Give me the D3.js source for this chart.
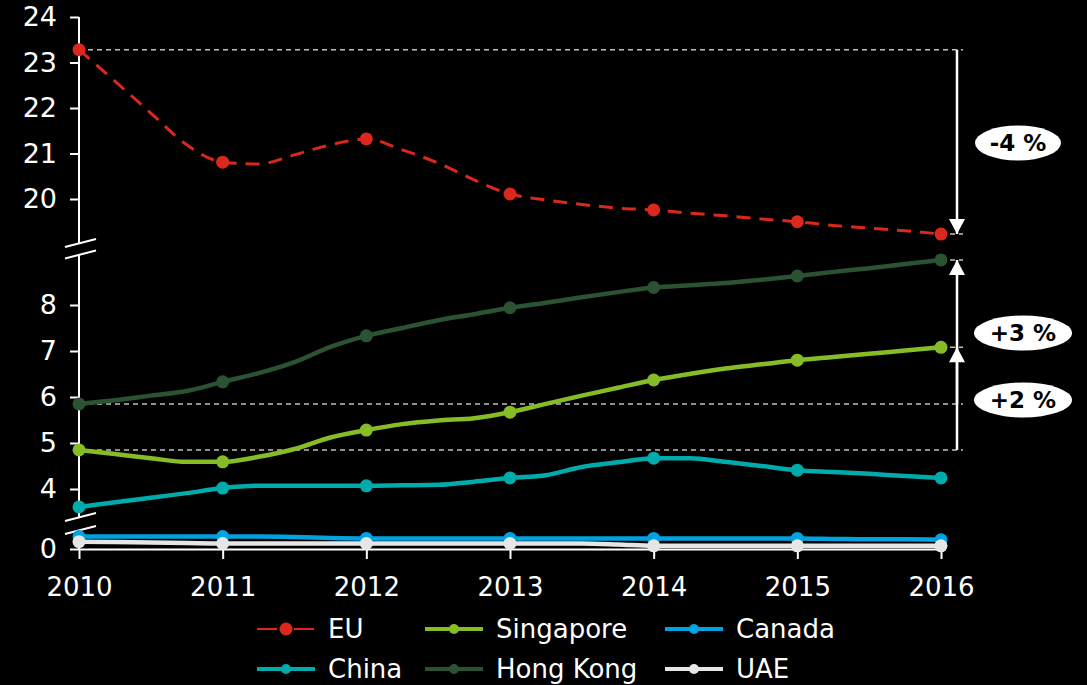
<!DOCTYPE html>
<meta charset="utf-8">
<script src="https://d3js.org/d3.v7.min.js"></script>
<style>
body { margin: 0; background: #000; }
text { font-family: "DejaVu Sans", Verdana, sans-serif; }
</style>
<body>
<div id="my_dataviz"></div>
<script>

// quarterly points, markers on the full years
var quarters = [2010, 2010.25, 2010.5, 2010.75, 2011, 2011.25, 2011.5, 2011.75,
                2012, 2012.25, 2012.5, 2012.75, 2013, 2013.25, 2013.5, 2013.75,
                2014, 2014.25, 2014.5, 2014.75, 2015, 2015.25, 2015.5, 2015.75, 2016];
var years = [2010, 2011, 2012, 2013, 2014, 2015, 2016];

var euValues        = [23.28, 22.59, 21.89, 21.19, 20.81, 20.77, 20.97, 21.19, 21.32, 21.08, 20.79, 20.42, 20.11,
                       19.98, 19.88, 19.80, 19.76, 19.69, 19.63, 19.56, 19.50, 19.42, 19.36, 19.30, 19.23];
var singaporeValues = [4.85, 4.76, 4.67, 4.59, 4.59, 4.70, 4.87, 5.12, 5.28, 5.41, 5.49, 5.54, 5.67,
                       5.85, 6.03, 6.20, 6.37, 6.50, 6.62, 6.71, 6.80, 6.87, 6.94, 7.01, 7.08];
var canadaValues    = [0.27, 0.27, 0.27, 0.27, 0.27, 0.27, 0.26, 0.24, 0.23, 0.23, 0.23, 0.23, 0.23,
                       0.23, 0.23, 0.23, 0.23, 0.23, 0.23, 0.23, 0.23, 0.22, 0.21, 0.21, 0.20];
var chinaValues     = [3.61, 3.71, 3.81, 3.91, 4.02, 4.07, 4.07, 4.07, 4.07, 4.08, 4.09, 4.16, 4.24,
                       4.30, 4.48, 4.58, 4.67, 4.67, 4.59, 4.50, 4.41, 4.37, 4.33, 4.28, 4.24];
var hongKongValues  = [5.85, 5.93, 6.03, 6.13, 6.33, 6.52, 6.76, 7.09, 7.33, 7.50, 7.67, 7.80, 7.94,
                       8.05, 8.17, 8.28, 8.38, 8.43, 8.48, 8.55, 8.63, 8.72, 8.80, 8.89, 8.98];
var uaeValues       = [0.16, 0.15, 0.14, 0.13, 0.12, 0.12, 0.12, 0.12, 0.12, 0.12, 0.12, 0.12, 0.12,
                       0.12, 0.12, 0.10, 0.07, 0.07, 0.07, 0.07, 0.07, 0.07, 0.07, 0.07, 0.07];

var names  = ["EU", "Singapore", "Canada", "China", "Hong Kong", "UAE"];
var colors = ["#da291c", "#86bc25", "#00a3e0", "#00abab", "#2c5234", "#e6e6e6"];

var topTicks = [20, 21, 22, 23, 24];
var midTicks = [4, 5, 6, 7, 8];
var botTicks = [0];

var changeLabels = ["-4 %", "+3 %", "+2 %"];

var series = [
  {name: names[0], color: colors[0], values: euValues, dashed: true},
  {name: names[1], color: colors[1], values: singaporeValues},
  {name: names[2], color: colors[2], values: canadaValues},
  {name: names[3], color: colors[3], values: chinaValues},
  {name: names[4], color: colors[4], values: hongKongValues},
  {name: names[5], color: colors[5], values: uaeValues}
];

var width = 1087, height = 685;

var svg = d3.select("#my_dataviz")
  .append("svg")
  .attr("width", width)
  .attr("height", height)
  .style("background", "#000");

var x = d3.scaleLinear().domain([2010, 2016]).range([79, 941]);

// three pieces of a broken y axis
var yTop = d3.scaleLinear().domain([20, 24]).range([199, 17]);
var yMid = d3.scaleLinear().domain([4, 8]).range([489, 305]);
var yBot = d3.scaleLinear().domain([0, 1]).range([549, 503]);
function y(v) {
  if (v > 15) return yTop(v);
  if (v > 2) return yMid(v);
  return yBot(v);
}

// y axes
[[yTop, topTicks], [yMid, midTicks], [yBot, botTicks]].forEach(function(p) {
  var g = svg.append("g")
    .attr("class", "yaxis")
    .attr("transform", "translate(79,0)")
    .call(d3.axisLeft(p[0]).tickValues(p[1]).tickFormat(d3.format("d"))
          .tickSize(9).tickPadding(13));
  g.select(".domain").remove();
});

var segs = [[17, 243], [255, 517], [530, 549]];
svg.selectAll(".seg").data(segs).enter().append("line")
  .attr("x1", 79).attr("x2", 79)
  .attr("y1", function(d) { return d[0]; })
  .attr("y2", function(d) { return d[1]; })
  .attr("stroke", "#fff").attr("stroke-width", 2);

var breaks = [243, 254.5, 517, 530];
svg.selectAll(".brk").data(breaks).enter().append("line")
  .attr("x1", 65).attr("x2", 96)
  .attr("y1", function(d) { return d + 4; })
  .attr("y2", function(d) { return d - 4; })
  .attr("stroke", "#fff").attr("stroke-width", 2);

// x axis
var xAxis = svg.append("g")
  .attr("class", "xaxis")
  .attr("transform", "translate(0,549)")
  .call(d3.axisBottom(x).tickValues(years).tickFormat(d3.format("d"))
        .tickSize(10).tickSizeOuter(0).tickPadding(19));

svg.selectAll(".yaxis text").style("font-size", "27px").attr("fill", "#fff");
svg.selectAll(".xaxis text").style("font-size", "26px").attr("fill", "#fff");
svg.selectAll(".yaxis line, .xaxis line, .xaxis .domain")
  .attr("stroke", "#fff").attr("stroke-width", 2);

// reference dashed lines
var xEnd = 963;
var refLong = [euValues[0], hongKongValues[0], singaporeValues[0]];
var refShort = [euValues[24], hongKongValues[24], singaporeValues[24]];
svg.selectAll(".refl").data(refLong).enter().append("line")
  .attr("x1", x(2010)).attr("x2", xEnd)
  .attr("y1", y).attr("y2", y)
  .attr("stroke", "#bfbfbf").attr("stroke-width", 1.5)
  .attr("stroke-dasharray", "5,4");
svg.selectAll(".refs").data(refShort).enter().append("line")
  .attr("x1", x(2016)).attr("x2", xEnd)
  .attr("y1", y).attr("y2", y)
  .attr("stroke", "#bfbfbf").attr("stroke-width", 1.5)
  .attr("stroke-dasharray", "5,4");

// series
var line = d3.line()
  .x(function(d, i) { return x(quarters[i]); })
  .y(function(d) { return y(d); })
  .curve(d3.curveMonotoneX);

series.forEach(function(s) {
  svg.append("path")
    .datum(s.values)
    .attr("d", line)
    .attr("fill", "none")
    .attr("stroke", s.color)
    .attr("stroke-width", s.dashed ? 3 : 4.5)
    .attr("stroke-dasharray", s.dashed ? "14,9" : null);

  var pts = quarters.map(function(q, i) { return {q: q, v: s.values[i]}; })
    .filter(function(d) { return Number.isInteger(d.q); });
  svg.selectAll(null).data(pts).enter().append("circle")
    .attr("cx", function(d) { return x(d.q); })
    .attr("cy", function(d) { return y(d.v); })
    .attr("r", 6.5)
    .attr("fill", s.color);
});

// arrows
var ax = 957;
function arrow(from, to) {
  svg.append("line")
    .attr("x1", ax).attr("x2", ax)
    .attr("y1", y(from)).attr("y2", y(to))
    .attr("stroke", "#fff").attr("stroke-width", 2.5);
  var tip = y(to), dir = y(to) > y(from) ? -1 : 1;
  svg.append("path")
    .attr("d", "M" + ax + "," + tip + "L" + (ax - 8) + "," + (tip + dir * 15) +
               "L" + (ax + 8) + "," + (tip + dir * 15) + "Z")
    .attr("fill", "#fff");
}
arrow(euValues[0], euValues[24]);
arrow(hongKongValues[0], hongKongValues[24]);
arrow(singaporeValues[0], singaporeValues[24]);

// change labels
var labelPos = [[1018, 143, 43], [1023, 333, 49], [1023, 400, 49]];
changeLabels.forEach(function(t, i) {
  var p = labelPos[i];
  svg.append("ellipse")
    .attr("cx", p[0]).attr("cy", p[1])
    .attr("rx", p[2]).attr("ry", 17.5)
    .attr("fill", "#fff");
  svg.append("text")
    .attr("x", p[0]).attr("y", p[1])
    .attr("dy", "0.36em")
    .attr("text-anchor", "middle")
    .style("font-size", "23px")
    .style("font-weight", "bold")
    .attr("fill", "#000")
    .text(t);
});

// legend
var legCols = [257, 425, 665], legRows = [629, 669];
series.forEach(function(s, i) {
  var lx = legCols[i % 3], ly = legRows[Math.floor(i / 3)];
  var g = svg.append("g").attr("transform", "translate(" + lx + "," + ly + ")");
  if (s.dashed) {
    g.append("line").attr("x1", 0).attr("x2", 20).attr("y1", 0).attr("y2", 0)
      .attr("stroke", s.color).attr("stroke-width", 2);
    g.append("line").attr("x1", 37).attr("x2", 57).attr("y1", 0).attr("y2", 0)
      .attr("stroke", s.color).attr("stroke-width", 2);
  } else {
    g.append("line").attr("x1", 0).attr("x2", 58).attr("y1", 0).attr("y2", 0)
      .attr("stroke", s.color).attr("stroke-width", 4);
  }
  g.append("circle").attr("cx", 29).attr("cy", 0).attr("r", s.dashed ? 6.5 : 5).attr("fill", s.color);
  g.append("text")
    .attr("x", 71).attr("y", 0).attr("dy", "0.36em")
    .style("font-size", "26px")
    .attr("fill", "#fff")
    .text(s.name);
});

</script>
</body>
